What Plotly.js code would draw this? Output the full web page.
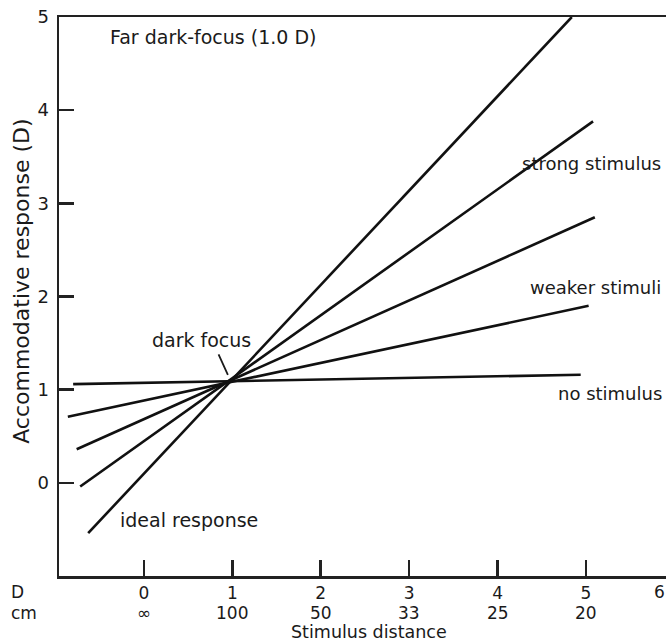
<!DOCTYPE html>
<html>
<head>
<meta charset="utf-8">
<script src="https://cdn.plot.ly/plotly-3.0.1.min.js"></script>
<style>html,body{margin:0;padding:0;background:#fff;overflow:hidden}</style>
</head>
<body>
<div id="chart" style="width:666px;height:643px"></div>
<script>
// Data (stimulus in D, response in D)
const idealX = [-0.63, 4.84];
const idealY = [-0.54, 5.0];
const strongX = [-0.72, 5.08];
const strongY = [-0.04, 3.88];
const mediumX = [-0.76, 5.10];
const mediumY = [0.36, 2.85];
const weakX = [-0.86, 5.03];
const weakY = [0.71, 1.90];
const noneX = [-0.80, 4.94];
const noneY = [1.06, 1.16];

const tickD = [0, 1, 2, 3, 4, 5, 6];
const tickDLabels = ['0', '1', '2', '3', '4', '5', '6'];
const cmD = [0, 1, 2, 3, 4, 5];
const cmLabels = ['∞', '100', '50', '33', '25', '20'];
const yTicks = [0, 1, 2, 3, 4, 5];

const xRange = [-0.96, 5.905];
const yRange = [-1, 5];

const FONT = 'DejaVu Sans, Liberation Sans, Arial, sans-serif';
const INK = '#1a1a1a';

const lineStyle = {color: '#111', width: 2.6};
const series = [[idealX, idealY], [strongX, strongY], [mediumX, mediumY], [weakX, weakY], [noneX, noneY]];
const traces = series.map(([x, y]) => ({
  x: x, y: y, type: 'scatter', mode: 'lines', line: lineStyle, hoverinfo: 'skip', showlegend: false
}));

const tickFont = {family: FONT, size: 17, color: INK};
const annFont = {family: FONT, size: 19, color: INK};
const edgeFont = {family: FONT, size: 18, color: INK};
const annotations = [
  {x: -0.41, y: 4.79, xref: 'x', yref: 'y', text: 'Far dark-focus (1.0 D)', showarrow: false, xanchor: 'left', yanchor: 'middle', font: annFont},
  {x: 4.26, y: 3.43, xref: 'x', yref: 'y', text: 'strong stimulus', showarrow: false, xanchor: 'left', yanchor: 'middle', borderpad: 0, font: edgeFont},
  {x: 4.36, y: 2.10, xref: 'x', yref: 'y', text: 'weaker stimuli', showarrow: false, xanchor: 'left', yanchor: 'middle', borderpad: 0, font: edgeFont},
  {x: 4.67, y: 0.955, xref: 'x', yref: 'y', text: 'no stimulus', showarrow: false, xanchor: 'left', yanchor: 'middle', borderpad: 0, font: edgeFont},
  {x: 0.07, y: 1.53, xref: 'x', yref: 'y', text: 'dark focus', showarrow: false, xanchor: 'left', yanchor: 'middle', font: annFont},
  {x: -0.29, y: -0.40, xref: 'x', yref: 'y', text: 'ideal response', showarrow: false, xanchor: 'left', yanchor: 'middle', font: annFont},
  // pointer from "dark focus" label to the crossing point
  {x: 0.95, y: 1.16, xref: 'x', yref: 'y', text: '', showarrow: true, arrowhead: 0, arrowwidth: 1.8, arrowcolor: INK, ax: -10, ay: -22, standoff: 0},
  // axis titles and row labels
  {x: -0.061, y: 0.528, xref: 'paper', yref: 'paper', text: 'Accommodative response (D)', textangle: -90, showarrow: false, xanchor: 'center', yanchor: 'middle', font: {family: FONT, size: 22, color: INK}},
  {x: 0.51, y: -0.0995, xref: 'paper', yref: 'paper', text: 'Stimulus distance', showarrow: false, xanchor: 'center', yanchor: 'middle', borderpad: 0, font: {family: FONT, size: 17.5, color: INK}},
  {x: -0.069, y: -0.0286, xref: 'paper', yref: 'paper', text: 'D', showarrow: false, xanchor: 'center', yanchor: 'middle', borderpad: 0, font: tickFont},
  {x: -0.058, y: -0.0655, xref: 'paper', yref: 'paper', text: 'cm', showarrow: false, xanchor: 'center', yanchor: 'middle', borderpad: 0, font: tickFont},
  {x: 1.0, y: -0.0286, xref: 'paper', yref: 'paper', text: '6', showarrow: false, xanchor: 'right', yanchor: 'middle', borderpad: 0, font: tickFont}
].concat(cmD.map((d, i) => ({
  x: d, y: -0.0655, xref: 'x', yref: 'paper', text: cmLabels[i], showarrow: false, xanchor: 'center', yanchor: 'middle', borderpad: 0, font: tickFont
})));

const layout = {
  width: 666, height: 643,
  margin: {l: 59, r: 0, t: 17, b: 67},
  paper_bgcolor: '#fff', plot_bgcolor: '#fff',
  showlegend: false,
  font: {family: FONT, size: 17, color: INK},
  xaxis: {
    range: xRange, tickvals: tickD, ticktext: tickDLabels,
    showgrid: false, zeroline: false,
    showline: true, linecolor: '#222', linewidth: 2.5, mirror: true,
    ticks: 'inside', ticklen: 16, tickwidth: 2.5, tickcolor: '#222',
    tickfont: tickFont, ticklabelstandoff: 0
  },
  yaxis: {
    range: yRange, tickvals: yTicks,
    showgrid: false, zeroline: false,
    showline: true, linecolor: '#222', linewidth: 2.5,
    ticks: 'inside', ticklen: 15, tickwidth: 2.5, tickcolor: '#222',
    tickfont: {family: FONT, size: 18, color: INK}, ticklabelstandoff: 4
  },
  annotations: annotations
};

Plotly.newPlot('chart', traces, layout, {staticPlot: true, displayModeBar: false});
</script>
</body>
</html>
